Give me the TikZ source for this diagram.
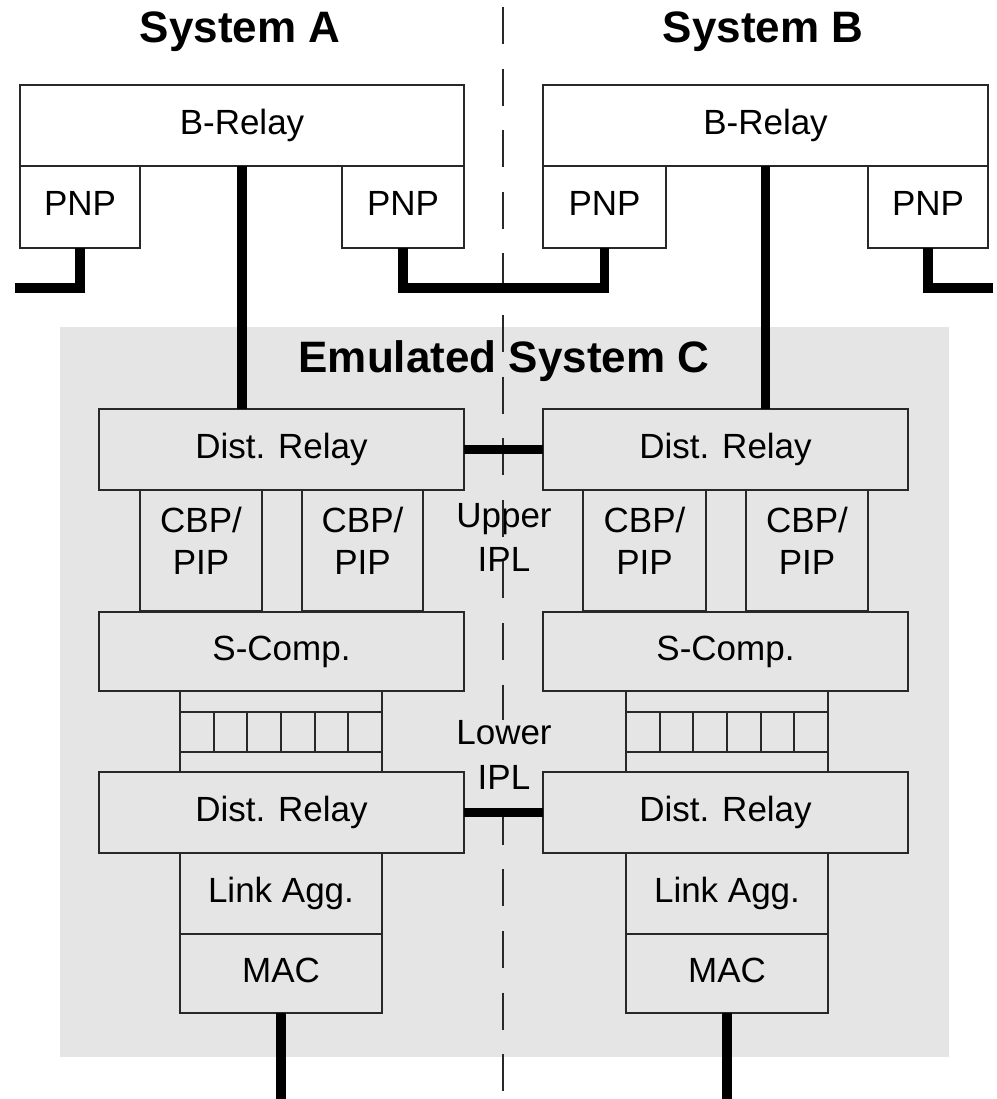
\documentclass[tikz,border=0pt]{standalone}
\usepackage{fontspec}
\setmainfont{Liberation Sans}
\definecolor{bgC}{RGB}{229,229,229}
\definecolor{lineC}{RGB}{40,40,40}
\begin{document}
\begin{tikzpicture}[x=1pt,y=-1pt,
  box/.style={draw=lineC, line width=1.8pt, inner sep=0pt, outer sep=0pt,
    font=\fontsize{35}{42}\selectfont, text height=25pt, text depth=7pt},
  ebox/.style={draw=lineC, line width=1.8pt, inner sep=0pt, outer sep=0pt},
  lbl/.style={inner sep=0pt, font=\fontsize{35}{42}\selectfont, align=center},
  ttl/.style={inner sep=0pt, anchor=base, font=\fontsize{44}{50}\selectfont\bfseries},
  wire/.style={line width=9.5pt, line join=miter, draw=black},
  qline/.style={draw=lineC, line width=1.8pt},
  dline/.style={draw=lineC, line width=1.8pt, dash pattern=on 37pt off 24.6pt}
]
\useasboundingbox (0,0) rectangle (996,1099);

% emulated system background
\node[fill=bgC, minimum width=889pt, minimum height=730pt, inner sep=0pt] (emC) at (504.5,692) {};
\node[ttl] (tC) at (504,372) {Emulated System C};

% titles
\node[ttl] (tA) at (240,43) {System A};
\node[ttl] (tB) at (763,43) {System B};

% upper IPL label (dash drawn over it)
\node[lbl, font=\fontsize{35}{44}\selectfont] (upIPL) at (504,537.5) {Upper\\IPL};

% dashed divider
\coordinate (dTop) at (503,7);
\coordinate (dBot) at (503,1099);
\draw[dline] (dTop) -- (dBot);

% lower IPL label (hides dash)
\node[lbl, fill=bgC, font=\fontsize{35}{45}\selectfont] (loIPL) at (504,755) {Lower\\IPL};

% System A
\node[box, fill=white, minimum width=444pt, minimum height=81pt] (brA) at (242,125.5) {B-Relay};
\node[box, fill=white, minimum width=120pt, minimum height=82pt] (pnpA1) at (80,207) {PNP};
\node[box, fill=white, minimum width=122pt, minimum height=82pt] (pnpA2) at (403,207) {PNP};

% System B
\node[box, fill=white, minimum width=445pt, minimum height=81pt] (brB) at (765.5,125.5) {B-Relay};
\node[box, fill=white, minimum width=123pt, minimum height=82pt] (pnpB1) at (604.5,207) {PNP};
\node[box, fill=white, minimum width=120pt, minimum height=82pt] (pnpB2) at (928,207) {PNP};

% Emulated C, left half
\node[box, minimum width=365pt, minimum height=81pt] (drA1) at (281.5,449.5) {Dist. Relay};
\node[ebox, minimum width=122pt, minimum height=121pt] (cbpA1) at (201,550.5) {};
\node[ebox, minimum width=121pt, minimum height=121pt] (cbpA2) at (362.5,550.5) {};
\node[lbl] (tcbpA1) at ([yshift=10pt]cbpA1.center) {CBP/\\PIP};
\node[lbl] (tcbpA2) at ([yshift=10pt]cbpA2.center) {CBP/\\PIP};
\node[box, minimum width=365pt, minimum height=79pt] (scA) at (281.5,651.5) {S-Comp.};
\node[ebox, minimum width=202pt, minimum height=81pt] (qA) at (281,731.5) {};
\node[box, minimum width=365pt, minimum height=81pt] (drA2) at (281.5,812.5) {Dist. Relay};
\node[box, minimum width=202pt, minimum height=81pt] (laA) at (281,893.5) {Link Agg.};
\node[box, minimum width=202pt, minimum height=79pt] (macA) at (281,973.5) {MAC};

% Emulated C, right half
\node[box, minimum width=365pt, minimum height=81pt] (drB1) at (725.5,449.5) {Dist. Relay};
\node[ebox, minimum width=123pt, minimum height=121pt] (cbpB1) at (644.5,550.5) {};
\node[ebox, minimum width=122pt, minimum height=121pt] (cbpB2) at (807,550.5) {};
\node[lbl] (tcbpB1) at ([yshift=10pt]cbpB1.center) {CBP/\\PIP};
\node[lbl] (tcbpB2) at ([yshift=10pt]cbpB2.center) {CBP/\\PIP};
\node[box, minimum width=365pt, minimum height=79pt] (scB) at (725.5,651.5) {S-Comp.};
\node[ebox, minimum width=202pt, minimum height=81pt] (qB) at (727,731.5) {};
\node[box, minimum width=365pt, minimum height=81pt] (drB2) at (725.5,812.5) {Dist. Relay};
\node[box, minimum width=202pt, minimum height=81pt] (laB) at (727,893.5) {Link Agg.};
\node[box, minimum width=202pt, minimum height=79pt] (macB) at (727,973.5) {MAC};

% queue internals
\foreach \q in {qA,qB}{
  \draw[qline] ([yshift=-21pt]\q.north west) -- ([yshift=-21pt]\q.north east);
  \draw[qline] ([yshift=20pt]\q.south west) -- ([yshift=20pt]\q.south east);
  \foreach \i in {1,...,5}
    \draw[qline] ([xshift=\i*33.667pt, yshift=-21pt]\q.north west) -- ++(0,40);
}

% thick connectors
\coordinate (endA) at (15,288);
\coordinate (endB) at (993,288);
\coordinate (botA) at (281,1099);
\coordinate (botB) at (727,1099);
\draw[wire] (pnpA1.south) |- (endA);
\draw[wire] (pnpA2.south) -- ++(0,40) -| (pnpB1.south);
\draw[wire] (pnpB2.south) |- (endB);
\draw[wire] (brA.south) -- (brA.south |- drA1.north);
\draw[wire] (brB.south) -- (brB.south |- drB1.north);
\draw[wire] (drA1.east) -- (drB1.west);
\draw[wire] (drA2.east) -- (drB2.west);
\draw[wire] (macA.south) -- (botA);
\draw[wire] (macB.south) -- (botB);
\end{tikzpicture}
\end{document}
